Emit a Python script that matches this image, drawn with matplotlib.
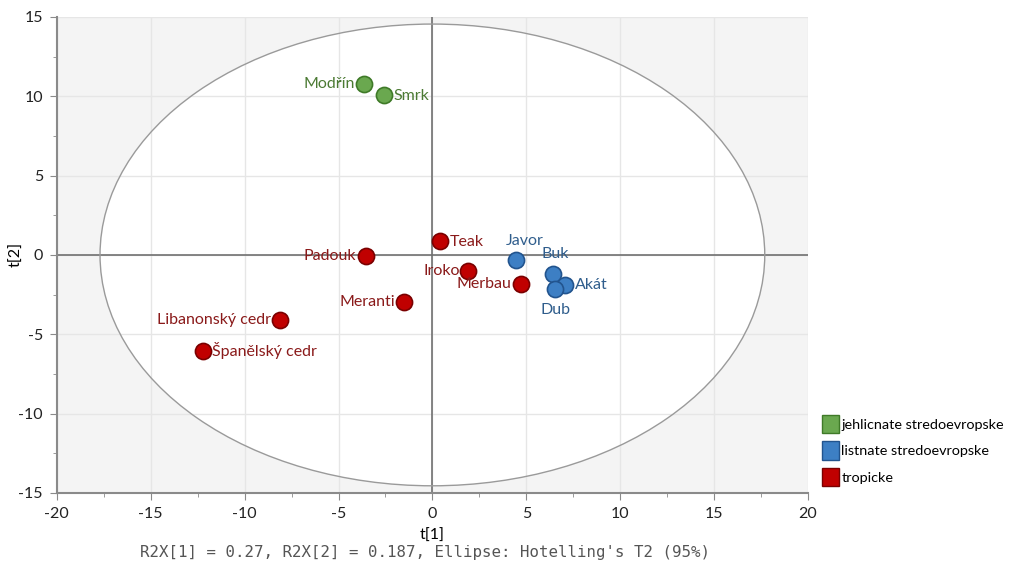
import matplotlib
matplotlib.use("Agg")
import matplotlib.pyplot as plt
from matplotlib.patches import Ellipse, Patch
from matplotlib.ticker import MultipleLocator

plt.rcParams['font.family'] = ['Lato', 'DejaVu Sans']
plt.rcParams['axes.unicode_minus'] = False

names = ["Modřín", "Smrk", "Teak", "Padouk", "Iroko", "Merbau", "Meranti",
         "Libanonský cedr", "Španělský cedr", "Javor", "Buk", "Akát", "Dub"]
t1 = [-3.62, -2.6, 0.43, -3.56, 1.91, 4.73, -1.49, -8.09, -12.23, 4.47, 6.44, 7.07, 6.54]
t2 = [10.77, 10.08, 0.88, -0.06, -1.0, -1.83, -2.96, -4.1, -6.05, -0.32, -1.2, -1.89, -2.14]
groups = ["jehl", "jehl", "trop", "trop", "trop", "trop", "trop", "trop", "trop",
          "list", "list", "list", "list"]
group_labels = {"jehl": "jehlicnate stredoevropske",
                "list": "listnate stredoevropske",
                "trop": "tropicke"}
ellipse_axes = (17.7, 14.55)

face = {"jehl": "#6aa84f", "list": "#3d7fc4", "trop": "#c00000"}
edge = {"jehl": "#3f7a28", "list": "#22548e", "trop": "#7a0000"}
txtc = {"jehl": "#4b7a33", "list": "#2f5d8c", "trop": "#8a1a1a"}

# label placement: (dx, dy) in points, ha, va
lab_pos = {
    "Modřín": (-7, 0, "right", "center"),
    "Smrk": (7, -1, "left", "center"),
    "Teak": (7, -1, "left", "center"),
    "Padouk": (-7, 0, "right", "center"),
    "Iroko": (-6, 0, "right", "center"),
    "Merbau": (-7, 0, "right", "center"),
    "Meranti": (-7, 0, "right", "center"),
    "Libanonský cedr": (-7, 0, "right", "center"),
    "Španělský cedr": (7, 0, "left", "center"),
    "Javor": (6, 9, "center", "bottom"),
    "Buk": (1, 9, "center", "bottom"),
    "Akát": (7, 0, "left", "center"),
    "Dub": (0, -10, "center", "top"),
}

fig = plt.figure(figsize=(10.15, 5.64), dpi=100)
ax = fig.add_axes([0.056, 0.126, 0.740, 0.844])
ax.set_facecolor("#f4f4f4")
ax.set_xlim(-20, 20)
ax.set_ylim(-15, 15)

ax.add_patch(Ellipse((0, 0), 2 * ellipse_axes[0], 2 * ellipse_axes[1],
                     facecolor="white", edgecolor="none", zorder=0.2))
ax.add_patch(Ellipse((0, 0), 2 * ellipse_axes[0], 2 * ellipse_axes[1],
                     facecolor="none", edgecolor="#9a9a9a", lw=1.0, zorder=2))

ax.xaxis.set_major_locator(MultipleLocator(5))
ax.yaxis.set_major_locator(MultipleLocator(5))
ax.xaxis.set_minor_locator(MultipleLocator(2.5))
ax.yaxis.set_minor_locator(MultipleLocator(2.5))
ax.set_axisbelow(True)
ax.grid(True, which="major", color="#e6e6e6", lw=1.0)
ax.axhline(0, color="#707070", lw=1.2, zorder=1.5)
ax.axvline(0, color="#707070", lw=1.2, zorder=1.5)

for s in ["top", "right"]:
    ax.spines[s].set_visible(False)
for s in ["left", "bottom"]:
    ax.spines[s].set_color("#8a8a8a")
    ax.spines[s].set_linewidth(1.5)
ax.tick_params(which="major", length=5, color="#8a8a8a", labelsize=11.5,
               labelcolor="#222222", pad=5)
ax.tick_params(which="minor", length=3, color="#8a8a8a")

for n, x, y, g in zip(names, t1, t2, groups):
    ax.scatter(x, y, s=135, color=face[g], edgecolor=edge[g], linewidth=1.2, zorder=3)
    dx, dy, ha, va = lab_pos[n]
    ax.annotate(n, (x, y), xytext=(dx, dy), textcoords="offset points",
                ha=ha, va=va, color=txtc[g], fontsize=11.5, zorder=4)

ax.set_xlabel("t[1]", fontsize=11.5, labelpad=6)
ax.set_ylabel("t[2]", fontsize=11.5)
ax.yaxis.set_label_coords(-0.045, 0.5)

handles = [Patch(facecolor=face[k], edgecolor=edge[k], label=group_labels[k])
           for k in ["jehl", "list", "trop"]]
fig.legend(handles=handles, loc="upper left", bbox_to_anchor=(0.804, 0.275),
           frameon=False, fontsize=10.4, handlelength=1.2, handleheight=1.6,
           handletextpad=0.15, labelspacing=0.55, borderaxespad=0)

fig.text(0.138, 0.012, "R2X[1] = 0.27, R2X[2] = 0.187, Ellipse: Hotelling's T2 (95%)",
         family="DejaVu Sans Mono", fontsize=11.3, color="#555555")

fig.savefig("out.png", dpi=100)
